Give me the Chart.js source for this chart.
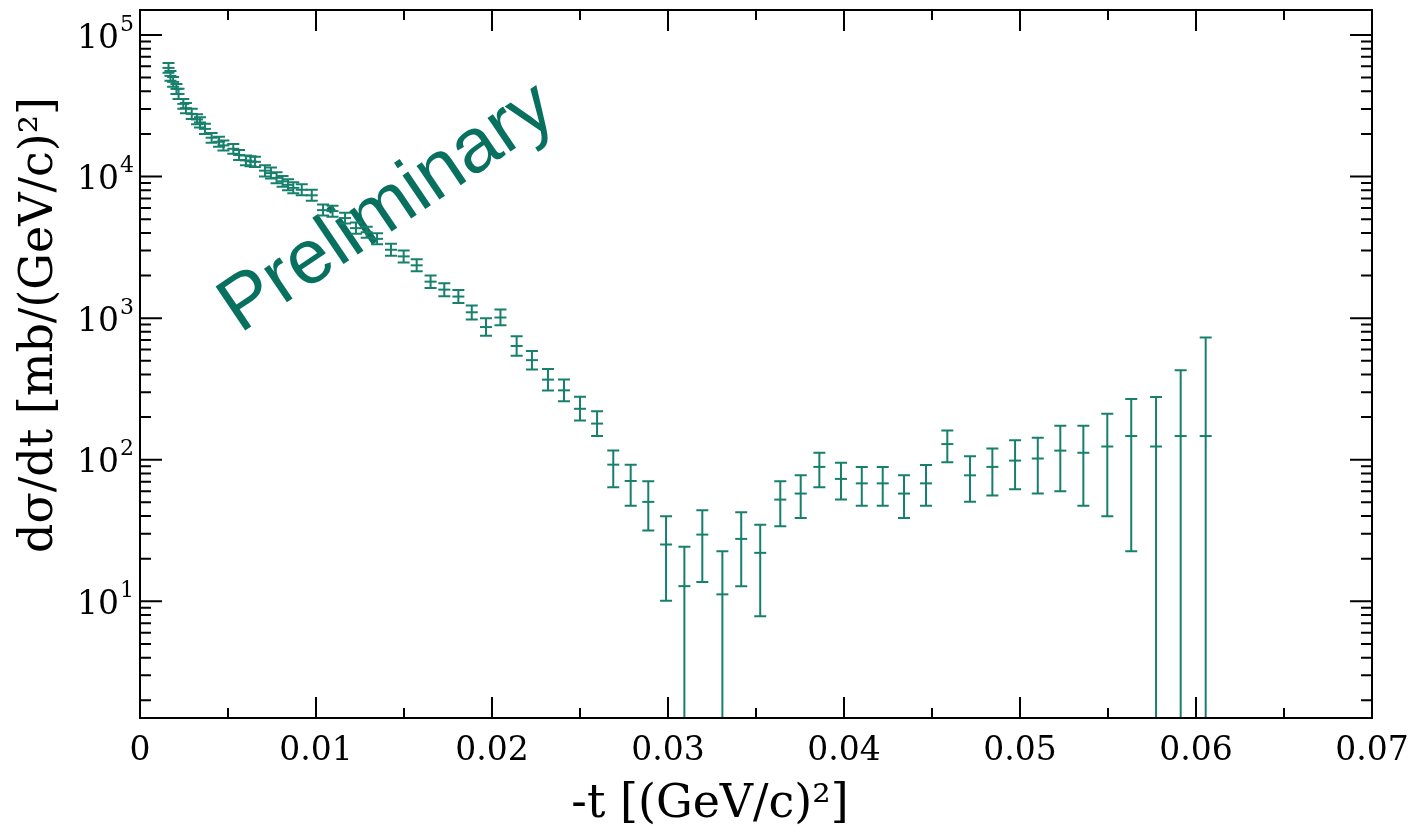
<!DOCTYPE html>
<html lang="en">
<head>
  <meta charset="UTF-8">
  <title>dσ/dt vs -t</title>
  <script src="https://cdn.jsdelivr.net/npm/chart.js"></script>
  <style>
    html, body { margin: 0; padding: 0; background: #fff; }
    #wrap { width: 1411px; height: 834px; }
  </style>
</head>
<body>
  <div id="wrap"><canvas id="chart" width="1411" height="834"></canvas></div>

  <script>
    // -t in (GeV/c)^2
    const tValues = [
      0.00162, 0.00173, 0.00188, 0.00207, 0.00219, 0.00246, 0.00261, 0.00294, 0.00324, 0.00341,
      0.00369, 0.00407, 0.00449, 0.00474, 0.00530, 0.00563, 0.00602, 0.00628, 0.00653, 0.00710,
      0.00744, 0.00776, 0.00810, 0.00841, 0.00871, 0.00919, 0.00976, 0.01040, 0.01094, 0.01165,
      0.01227, 0.01288, 0.01347, 0.01426, 0.01498, 0.01572, 0.01651, 0.01729, 0.01809, 0.01885,
      0.01966, 0.02048, 0.02140, 0.02227, 0.02318, 0.02409, 0.02500, 0.02597, 0.02689, 0.02788,
      0.02888, 0.02989, 0.03093, 0.03195, 0.03309, 0.03416, 0.03524, 0.03638, 0.03754, 0.03860,
      0.03983, 0.04101, 0.04220, 0.04341, 0.04466, 0.04587, 0.04716, 0.04843, 0.04972, 0.05101,
      0.05229, 0.05360, 0.05496, 0.05632, 0.05773, 0.05913, 0.06055
    ];
    // dσ/dt in mb/(GeV/c)^2
    const dsdt = [
      58500, 51400, 46600, 41600, 38300, 32600, 30400, 27700, 25300, 24100,
      21700, 18800, 17600, 16600, 15700, 14200, 13000, 12800, 12700, 11000,
      10570, 9790, 9250, 8740, 8320, 8060, 7370, 5790, 5700, 5090,
      4320, 4040, 3630, 3040, 2730, 2360, 1810, 1590, 1420, 1100,
      865, 1010, 636, 505, 368, 309, 229, 180, 92.3, 70.8,
      50.4, 25.2, 12.8, 29.6, 11.2, 27.6, 22.0, 52.3, 57.7, 89,
      73.2, 68.1, 68.1, 57.7, 68.1, 129, 77.6, 89, 98.6, 102,
      116, 112, 124, 147, 124, 147, 147
    ];
    // lower / upper ends of the error bars (0 = runs off the bottom of the plot)
    const errLow = [
      54000, 47400, 43000, 38300, 35300, 30100, 28000, 25500, 23400, 22200,
      20000, 17300, 16200, 15300, 14500, 13100, 12000, 11800, 11700, 10000,
      9670, 8950, 8460, 7990, 7610, 7370, 6740, 5300, 5210, 4650,
      3950, 3690, 3320, 2760, 2470, 2140, 1630, 1430, 1280, 979,
      751, 891, 543, 434, 308, 259, 189, 147, 63.9, 47.4,
      31.6, 10.1, 0, 13.7, 0, 12.8, 7.85, 33.9, 38.8, 63.9,
      52.3, 47.4, 47.4, 38.8, 47.4, 96, 50.4, 55.8, 61.8, 57.7,
      59.8, 47.4, 39.9, 22.6, 0, 0, 0
    ];
    const errHigh = [
      63400, 55700, 50500, 45100, 41600, 35300, 33000, 30100, 27500, 26200,
      23600, 20300, 19100, 18000, 17000, 15400, 14100, 13900, 13800, 12000,
      11560, 10700, 10100, 9550, 9100, 8810, 8060, 6340, 6230, 5560,
      4730, 4420, 3970, 3350, 3000, 2600, 2000, 1760, 1580, 1230,
      997, 1150, 744, 587, 438, 368, 279, 220, 116, 92.3,
      70.4, 39.9, 24.3, 43.9, 22.6, 42.5, 34.8, 70.5, 77.6, 112,
      95.4, 89, 89, 77.6, 91.8, 161, 106, 120, 137, 143,
      174, 174, 211, 268, 277, 428, 731
    ];

    const xMajorTicks = [0, 0.01, 0.02, 0.03, 0.04, 0.05, 0.06, 0.07];
    const xTickLabels = ['0', '0.01', '0.02', '0.03', '0.04', '0.05', '0.06', '0.07'];
    const xMinorTicks = [0.005, 0.015, 0.025, 0.035, 0.045, 0.055, 0.065];
    const yDecades    = [1, 10, 100, 1000, 10000, 100000];
    const yExponents  = ['0', '1', '2', '3', '4', '5'];

    const teal  = '#17806c';
    const serif = '"DejaVu Serif", serif';

    // frame, inward ticks, tick labels, titles, watermark, error bars
    const decor = {
      id: 'decor',
      beforeDatasetsDraw(chart) {
        const { ctx, chartArea: a } = chart;
        ctx.save();
        ctx.translate(a.left + 100, a.top + 324);
        ctx.rotate(-34 * Math.PI / 180);
        ctx.font = '77px "Liberation Sans", Arial, sans-serif';
        ctx.fillStyle = '#07705f';
        ctx.textBaseline = 'alphabetic';
        ctx.fillText('Preliminary', 0, 0);
        ctx.restore();
      },
      afterDatasetsDraw(chart) {
        const { ctx, chartArea: a, scales: { x: xs, y: ys } } = chart;
        ctx.save();
        ctx.beginPath();
        ctx.rect(a.left, a.top, a.right - a.left, a.bottom - a.top);
        ctx.clip();
        ctx.strokeStyle = teal;
        ctx.lineWidth = 2;
        const cap = 6;
        tValues.forEach((t, i) => {
          const px = xs.getPixelForValue(t);
          const yHi = ys.getPixelForValue(errHigh[i]);
          const clipped = errLow[i] <= ys.min;
          const yLo = clipped ? a.bottom + 2 : ys.getPixelForValue(errLow[i]);
          ctx.beginPath();
          ctx.moveTo(px, yHi); ctx.lineTo(px, yLo);
          ctx.moveTo(px - cap, yHi); ctx.lineTo(px + cap, yHi);
          if (!clipped) { ctx.moveTo(px - cap, yLo); ctx.lineTo(px + cap, yLo); }
          ctx.stroke();
        });
        ctx.restore();
      },
      afterDraw(chart) {
        const { ctx, chartArea: a, scales: { x: xs, y: ys } } = chart;
        ctx.save();
        ctx.strokeStyle = '#000';
        ctx.lineWidth = 2;
        ctx.strokeRect(a.left, a.top, a.right - a.left, a.bottom - a.top);

        ctx.beginPath();
        const xTick = (v, len) => {
          const px = xs.getPixelForValue(v);
          ctx.moveTo(px, a.bottom); ctx.lineTo(px, a.bottom - len);
          ctx.moveTo(px, a.top);    ctx.lineTo(px, a.top + len);
        };
        xMajorTicks.forEach(v => xTick(v, 21));
        xMinorTicks.forEach(v => xTick(v, 10));

        const yTick = (v, len) => {
          if (v < ys.min || v > ys.max) return;
          const py = ys.getPixelForValue(v);
          ctx.moveTo(a.left, py);  ctx.lineTo(a.left + len, py);
          ctx.moveTo(a.right, py); ctx.lineTo(a.right - len, py);
        };
        yDecades.forEach(d => {
          yTick(d, 22);
          for (let m = 2; m <= 9; m++) yTick(d * m, 11);
        });
        ctx.stroke();

        ctx.fillStyle = '#000';

        // x tick labels
        ctx.textAlign = 'center';
        ctx.textBaseline = 'middle';
        ctx.font = '33px ' + serif;
        xMajorTicks.forEach((v, i) => {
          ctx.fillText(xTickLabels[i], xs.getPixelForValue(v), a.bottom + 33);
        });

        // y tick labels: 10 with raised exponent
        ctx.textAlign = 'left';
        yDecades.forEach((d, i) => {
          if (d < ys.min || d > ys.max) return;
          const py = ys.getPixelForValue(d);
          ctx.font = '33px ' + serif;
          const wBase = ctx.measureText('10').width;
          ctx.font = '22px ' + serif;
          const wExp = ctx.measureText(yExponents[i]).width;
          const x0 = a.left - 7 - wBase - wExp;
          ctx.font = '33px ' + serif;
          ctx.fillText('10', x0, py + 4);
          ctx.font = '22px ' + serif;
          ctx.fillText(yExponents[i], x0 + wBase + 1, py - 10);
        });

        // axis titles
        ctx.textAlign = 'center';
        ctx.font = '46px ' + serif;
        ctx.fillText('-t [(GeV/c)²]', 710, 805);
        ctx.save();
        ctx.translate(40, 325);
        ctx.rotate(-Math.PI / 2);
        ctx.fillText('dσ/dt [mb/(GeV/c)²]', 0, 0);
        ctx.restore();
        ctx.restore();
      }
    };

    const points = tValues.map((t, i) => ({ x: t, y: dsdt[i] }));

    new Chart(document.getElementById('chart'), {
      type: 'scatter',
      data: {
        datasets: [{
          label: 'dσ/dt',
          data: points,
          pointStyle: 'line',
          pointRadius: 6,
          borderColor: teal,
          backgroundColor: teal,
          borderWidth: 2,
          showLine: false
        }]
      },
      options: {
        responsive: false,
        animation: false,
        devicePixelRatio: 1,
        layout: { padding: { top: 10, right: 39, left: 0, bottom: 0 } },
        plugins: { legend: { display: false }, tooltip: { enabled: false } },
        scales: {
          x: {
            type: 'linear', min: 0, max: 0.07,
            grid: { display: false, drawTicks: false },
            border: { display: false },
            ticks: { display: false },
            afterFit(s) { s.height = 116; }
          },
          y: {
            type: 'logarithmic', min: 1.5, max: 150000,
            grid: { display: false, drawTicks: false },
            border: { display: false },
            ticks: { display: false },
            afterFit(s) { s.width = 140; }
          }
        }
      },
      plugins: [decor]
    });
  </script>
</body>
</html>
